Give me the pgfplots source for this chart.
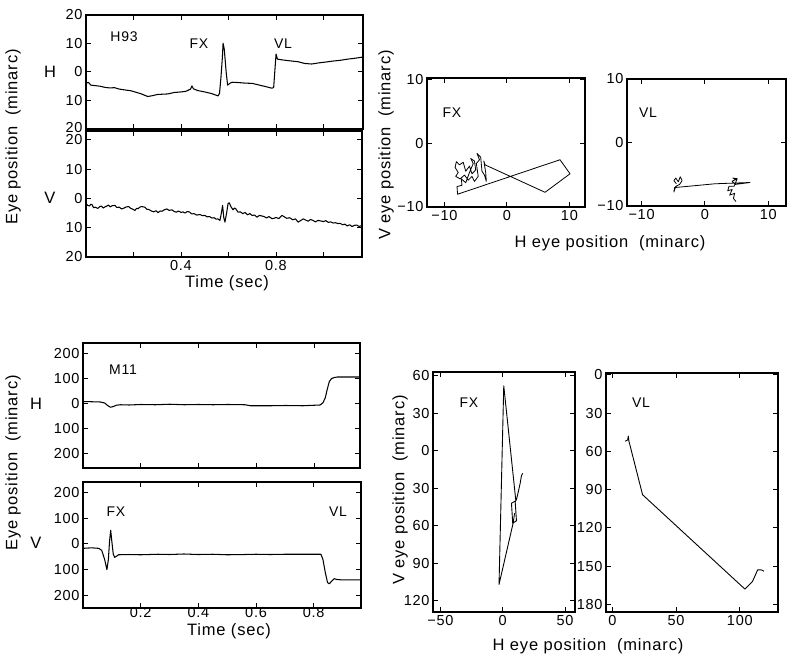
\documentclass[border=0pt]{standalone}
\usepackage{fontspec}
\setmainfont{Liberation Sans}[LetterSpace=5]
\usepackage{pgfplots}
\pgfplotsset{compat=1.18}
\pgfplotsset{
  panel/.style={scale only axis, anchor=south west,
    axis line style={line width=1.1pt},
    every tick/.style={line width=1pt, black},
    major tick length=5pt,
    tick label style={font=\fontsize{14.5}{14.5}\selectfont},
    clip=false},
  trace/.style={black, line width=1.05pt, no marks, line join=round}
}
\newcommand{\labf}{\fontsize{14}{14}\selectfont}
\newcommand{\bigf}{\fontsize{16.5}{16.5}\selectfont}
\begin{document}
\begin{tikzpicture}[x=1pt,y=1pt]
\path[use as bounding box] (0,0) rectangle (800,653);

% ---------- H93 H ----------
\begin{axis}[panel, at={(86pt,524pt)}, width=277pt, height=114pt,
  xmin=0, xmax=1.166, ymin=-20, ymax=20,
  xtick={0.2,0.4,0.6,0.8,1.0}, xticklabels={},
  ytick={-20,-10,0,10,20}, yticklabels={\raisebox{3pt}{20},10,0,10,20}]
\addplot[trace] coordinates {
(0.000,-4.0)(0.010,-3.6)(0.020,-4.6)(0.040,-4.8)(0.060,-5.0)(0.080,-5.4)(0.100,-5.6)(0.120,-5.5)(0.140,-6.0)(0.164,-6.3)(0.190,-6.6)(0.210,-7.1)(0.230,-7.6)(0.260,-8.6)(0.280,-8.3)(0.300,-7.9)(0.320,-7.8)(0.345,-7.7)(0.370,-7.2)(0.400,-7.0)(0.420,-6.8)(0.440,-6.0)(0.446,-4.9)(0.452,-5.9)(0.470,-6.5)(0.500,-7.0)(0.530,-7.6)(0.556,-8.4)(0.562,-7.5)(0.568,-2.0)(0.574,5.0)(0.577,10.1)(0.582,8.0)(0.590,0.0)(0.596,-4.6)(0.605,-4.0)(0.615,-3.6)(0.640,-3.7)(0.670,-3.9)(0.700,-4.0)(0.730,-4.6)(0.760,-5.2)(0.783,-5.7)(0.790,-5.4)(0.795,0.5)(0.800,6.3)(0.806,4.5)(0.830,4.2)(0.860,3.9)(0.893,3.6)(0.920,3.0)(0.950,2.8)(0.980,3.2)(1.010,3.5)(1.036,3.8)(1.070,4.1)(1.100,4.5)(1.130,4.8)(1.162,5.2)};
\end{axis}

% ---------- H93 V ----------
\begin{axis}[panel, at={(86pt,396pt)}, width=276pt, height=126pt,
  xmin=0, xmax=1.162, ymin=-20, ymax=23,
  xtick={0.2,0.4,0.6,0.8,1.0}, xticklabels={,0.4,,0.8,},
  ytick={-20,-10,0,10,20}, yticklabels={20,10,0,10,20}]
\addplot[trace] coordinates {
(0.000,-1.8)(0.008,-2.4)(0.015,-2.6)(0.020,-2.0)(0.025,-2.1)(0.032,-3.2)(0.038,-3.0)(0.050,-3.4)(0.058,-2.8)(0.065,-2.6)(0.072,-3.3)(0.080,-2.9)(0.088,-2.6)(0.095,-2.3)(0.102,-2.9)(0.110,-2.5)(0.122,-2.4)(0.130,-3.1)(0.140,-3.0)(0.150,-3.6)(0.160,-3.3)(0.170,-2.9)(0.180,-2.8)(0.188,-3.4)(0.195,-3.6)(0.206,-4.1)(0.213,-3.4)(0.220,-3.5)(0.228,-2.9)(0.235,-2.8)(0.248,-3.0)(0.256,-3.7)(0.265,-3.8)(0.275,-4.3)(0.285,-4.6)(0.295,-4.2)(0.303,-4.9)(0.312,-4.3)(0.320,-4.4)(0.330,-3.9)(0.340,-3.6)(0.350,-4.1)(0.362,-3.9)(0.372,-4.5)(0.380,-4.7)(0.390,-4.3)(0.400,-4.8)(0.408,-4.6)(0.417,-5.0)(0.426,-4.5)(0.435,-4.6)(0.445,-5.3)(0.455,-5.2)(0.466,-5.7)(0.480,-5.5)(0.490,-5.9)(0.500,-5.8)(0.510,-6.3)(0.520,-6.2)(0.530,-6.7)(0.540,-6.6)(0.548,-7.1)(0.555,-7.0)(0.564,-7.5)(0.570,-5.0)(0.575,-2.4)(0.580,-6.5)(0.585,-8.1)(0.592,-5.0)(0.598,-1.8)(0.603,-1.5)(0.610,-2.8)(0.619,-3.9)(0.625,-3.3)(0.630,-3.5)(0.640,-4.7)(0.650,-4.6)(0.660,-5.2)(0.670,-4.8)(0.680,-5.6)(0.690,-5.2)(0.699,-5.8)(0.710,-5.7)(0.720,-6.4)(0.730,-5.8)(0.740,-6.0)(0.750,-6.2)(0.760,-6.7)(0.770,-6.2)(0.783,-6.9)(0.792,-6.8)(0.800,-6.5)(0.812,-6.9)(0.825,-5.8)(0.835,-6.3)(0.845,-6.8)(0.858,-6.6)(0.870,-7.3)(0.882,-7.0)(0.893,-8.1)(0.903,-7.6)(0.915,-7.0)(0.925,-7.4)(0.935,-7.8)(0.945,-7.2)(0.955,-7.5)(0.966,-8.0)(0.977,-7.5)(0.988,-7.7)(1.000,-7.9)(1.010,-7.6)(1.020,-8.2)(1.030,-8.0)(1.040,-8.4)(1.050,-8.3)(1.061,-8.6)(1.070,-8.5)(1.080,-9.0)(1.090,-8.8)(1.100,-9.4)(1.110,-9.0)(1.120,-9.6)(1.130,-9.2)(1.140,-9.1)(1.150,-9.6)(1.162,-9.2)};
\end{axis}

% ---------- H93 FX (H vs V) ----------
\begin{axis}[panel, at={(427pt,446pt)}, width=158pt, height=129pt,
  xmin=-12.8, xmax=12.5, ymin=-10, ymax=10.2,
  xtick={-10,0,10}, xticklabels={−10,0,10},
  ytick={-10,0,10}, yticklabels={−10,0,10}]
\addplot[trace, line width=0.8pt] coordinates {
(-5.0,-4.2)(-5.6,-4.8)(-6.0,-3.6)(-6.6,-4.4)(-7.0,-3.0)(-7.6,-3.4)(-8.1,-2.9)(-8.3,-3.8)(-7.8,-4.6)(-8.2,-5.2)(-7.5,-5.6)(-6.8,-5.0)(-6.2,-5.8)(-5.6,-5.2)(-5.2,-6.0)(-4.6,-5.2)(-4.9,-3.2)(-4.4,-2.6)(-4.8,-1.6)(-4.2,-2.2)(-4.0,-4.4)(-3.6,-5.0)(-3.3,-6.0)(-3.4,-4.6)(-3.7,-2.8)(-3.5,-3.4)(6.1,-7.7)(10.1,-4.8)(8.5,-2.6)(-7.9,-8.0)(-8.0,-6.8)(-7.2,-6.6)(-7.3,-5.6)(-6.6,-6.2)(-6.0,-4.6)(-5.4,-3.2)(-5.8,-2.4)(-5.2,-2.8)(-5.0,-4.2)};
\end{axis}

% ---------- H93 VL (H vs V) ----------
\begin{axis}[panel, at={(627pt,447pt)}, width=159pt, height=127pt,
  xmin=-12.3, xmax=12.8, ymin=-10, ymax=10,
  xtick={-10,0,10}, xticklabels={−10,0,10},
  ytick={-10,0,10}, yticklabels={−10,0,10}]
\addplot[trace, line width=0.8pt] coordinates {
(-4.5,-6.5)(-4.9,-6.0)(-4.6,-5.6)(-4.2,-6.2)(-3.9,-5.4)(-3.6,-6.0)(-4.0,-6.6)(-4.6,-6.9)(-4.9,-7.8)(-4.8,-7.1)(1.6,-6.5)(7.1,-6.3)(4.8,-6.6)(4.3,-6.1)(4.9,-5.8)(4.4,-5.6)(5.1,-5.7)(4.6,-6.9)(3.8,-6.9)(3.6,-7.6)(4.3,-7.4)(3.9,-8.3)(4.7,-8.0)(4.5,-8.8)(4.9,-9.3)};
\end{axis}

% ---------- M11 H ----------
\begin{axis}[panel, at={(83pt,185pt)}, width=277pt, height=125pt,
  xmin=0, xmax=0.958, ymin=-256, ymax=244,
  xtick={0.2,0.4,0.6,0.8}, xticklabels={},
  ytick={-200,-100,0,100,200}, yticklabels={200,100,0,100,200}]
\addplot[trace] coordinates {
(0.000,10)(0.030,9)(0.060,8)(0.075,4)(0.085,-6)(0.095,-13)(0.105,-10)(0.115,-5)(0.130,-3)(0.160,-4)(0.200,-2)(0.250,-3)(0.300,-1)(0.350,-3)(0.400,-2)(0.450,-3)(0.500,-2)(0.560,-3)(0.580,-7)(0.650,-7)(0.700,-6)(0.760,-7)(0.800,-5)(0.820,-4)(0.830,5)(0.838,25)(0.845,60)(0.852,90)(0.860,102)(0.870,106)(0.880,108)(0.958,108)};
\end{axis}

% ---------- M11 V ----------
\begin{axis}[panel, at={(83pt,45pt)}, width=278pt, height=126pt,
  xmin=0, xmax=0.964, ymin=-249, ymax=241,
  xtick={0.2,0.4,0.6,0.8}, xticklabels={0.2,0.4,0.6,0.8},
  xticklabel style={yshift=4pt},
  ytick={-200,-100,0,100,200}, yticklabels={200,100,0,100,200}]
\addplot[trace] coordinates {
(0.000,-17)(0.030,-15)(0.055,-17)(0.065,-25)(0.075,-60)(0.083,-100)(0.088,-60)(0.092,10)(0.096,53)(0.100,10)(0.105,-40)(0.110,-52)(0.116,-48)(0.123,-42)(0.160,-41)(0.200,-42)(0.260,-40)(0.300,-41)(0.350,-39)(0.400,-41)(0.450,-40)(0.500,-42)(0.560,-41)(0.600,-40)(0.650,-41)(0.700,-40)(0.750,-40)(0.790,-40)(0.825,-40)(0.832,-60)(0.840,-110)(0.848,-150)(0.854,-155)(0.862,-145)(0.871,-135)(0.880,-138)(0.900,-140)(0.964,-140)};
\end{axis}

% ---------- M11 FX (H vs V) ----------
\begin{axis}[panel, at={(433pt,41pt)}, width=142pt, height=240pt,
  xmin=-56, xmax=58, ymin=-129, ymax=63,
  xtick={-50,0,50}, xticklabels={−50,0,50},
  ytick={-120,-90,-60,-30,0,30,60}, yticklabels={120,90,60,30,0,30,60}]
\addplot[trace, line width=0.9pt] coordinates {
(16,-18)(15,-20)(14,-26)(12,-35)(11,-39)(10,-41)(11,-56)(8,-58)(7,-42)(10.5,-40)(0.8,52)(-3,-107)(8.3,-58)(9.5,-50)};
\end{axis}

% ---------- M11 VL (H vs V) ----------
\begin{axis}[panel, at={(606pt,41pt)}, width=172pt, height=239pt,
  xmin=-5, xmax=130, ymin=-1.5, ymax=186, y dir=reverse,
  xtick={0,50,100}, xticklabels={0,50,100},
  ytick={0,30,60,90,120,150,180}, yticklabels={0,30,60,90,120,150,180}]
\addplot[trace, line width=0.9pt] coordinates {
(10,52)(12,51)(12.5,48)(13,52)(23.7,94)(104,168)(110,162)(114,153)(117,153)(119,154)};
\end{axis}

% ---------- text ----------
\node[rotate=90, font=\bigf] at (13,516) {Eye position\ \ (minarc)};
\node[font=\bigf] at (50,581) {H};
\node[font=\bigf] at (50,455) {V};
\node[font=\labf] at (124,616) {H93};
\node[font=\labf] at (199,609) {FX};
\node[font=\labf] at (283,609) {VL};
\node[font=\bigf] at (227,370) {Time\ (sec)};

\node[rotate=90, font=\bigf] at (386,508) {V eye position\ \ (minarc)};
\node[font=\labf] at (452,540) {FX};
\node[font=\labf] at (648,540) {VL};
\node[font=\bigf] at (610,410) {H eye position\ \ (minarc)};

\node[rotate=90, font=\bigf] at (13,190) {Eye position\ \ (minarc)};
\node[font=\bigf] at (36,249) {H};
\node[font=\bigf] at (36,110) {V};
\node[font=\labf] at (123,283) {M11};
\node[font=\labf] at (116,141) {FX};
\node[font=\labf] at (338,141) {VL};
\node[font=\bigf] at (229,22) {Time\ (sec)};

\node[rotate=90, font=\bigf] at (400,163) {V eye position\ \ (minarc)};
\node[font=\labf] at (469,250) {FX};
\node[font=\labf] at (641,250) {VL};
\node[font=\bigf, anchor=base] at (588,3) {H eye position\ \ (minarc)};
\end{tikzpicture}
\end{document}
